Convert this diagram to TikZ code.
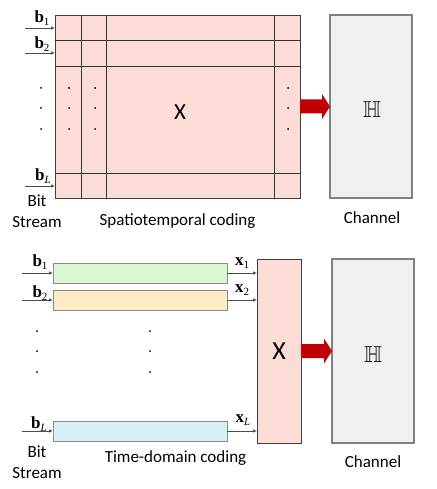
\RequirePackage{fix-cm}
\documentclass[tikz,border=0pt]{standalone}
\usepackage[no-math]{fontspec}
\setmainfont{Carlito}
\newfontfamily\tnr{Liberation Serif}
\usepackage{amssymb}
\usepackage{tikz}
\usetikzlibrary{arrows.meta, calc, positioning}

\definecolor{codepink}{HTML}{FCDCD6}
\definecolor{chgray}{HTML}{F0F0F0}
\definecolor{bargreen}{HTML}{D9F7D0}
\definecolor{baryellow}{HTML}{FDEBC5}
\definecolor{barblue}{HTML}{D7F0F7}
\definecolor{arrowred}{HTML}{C00000}

% bold vector symbol with a subscript
\newcommand{\vsym}[2]{{\tnr\textbf{#1}\raisebox{-0.35ex}{\fontsize{11}{12}\selectfont #2}}}
% fat red arrow from one node anchor to another
\newcommand{\fatarrow}[2]{%
  \fill[arrowred] ($(#1)+(0,-7)$) -- ($(#2)+(-8,-7)$) -- ($(#2)+(-8,-12.5)$) -- (#2)
    -- ($(#2)+(-8,12.5)$) -- ($(#2)+(-8,7)$) -- ($(#1)+(0,7)$) -- cycle;}

\begin{document}
\begin{tikzpicture}[x=1pt, y=-1pt, >={Latex[length=4pt,width=3.5pt]}, line/.style={draw=black!70, line width=0.7pt}, every node/.style={font=\fontsize{17}{21}\selectfont}]
    % Define styles for coder blocks, channel, bars, symbols and dots
    \tikzstyle{coder} = [draw=black!75, fill=codepink, rectangle, line width=0.8pt, inner sep=0pt, outer sep=0pt]
    \tikzstyle{channel} = [draw=black!50, fill=chgray, rectangle, line width=1.1pt, minimum width=82pt, minimum height=183pt, inner sep=0pt, outer sep=0pt]
    \tikzstyle{bar} = [draw=black!45, rectangle, line width=0.8pt, minimum width=174pt, minimum height=20pt, inner sep=0pt, outer sep=0pt]
    \tikzstyle{sym} = [font=\fontsize{17}{19}\selectfont, inner sep=0pt]
    \tikzstyle{bigsym} = [font=\fontsize{23}{26}\selectfont, inner sep=0pt]
    \useasboundingbox (0,0) rectangle (436,489);

    % Spatiotemporal coding (top)
    \node [coder, minimum width=245pt, minimum height=183pt] (stc) at (177.5,106.5) {};
    \node [channel, right of=stc, node distance=193.5pt] (ch1) {};
    \node [bigsym] (xtop) at (180,112) {X};
    \node [bigsym] (htop) at (372,110) {$\mathbb{H}$};
    \foreach \dx in {26,51,219}
        \draw[line, draw=black!80] ($(stc.north west)+(\dx,0)$) -- ($(stc.south west)+(\dx,0)$);
    \foreach \dy in {25,51,158}
        \draw[line, draw=black!80] ($(stc.north west)+(0,\dy)$) -- ($(stc.north east)+(0,\dy)$);

    \coordinate (tin1) at (25,28);
    \coordinate (tin2) at (25,53);
    \coordinate (tinL) at (25,186);
    \draw[line,->] (tin1) -- (tin1 -| stc.west);
    \draw[line,->] (tin2) -- (tin2 -| stc.west);
    \draw[line,->] (tinL) -- (tinL -| stc.west);
    \node [sym] (tb1) at (42,18) {\vsym{b}{1}};
    \node [sym] (tb2) at (42,44) {\vsym{b}{2}};
    \node [sym] (tbL) at (43,176) {\vsym{b}{\textit{L}}};

    \foreach \x in {41,69,95,288}
        \foreach \y in {88,108,129}
            \fill (\x,\y) circle[radius=1pt];

    \fatarrow{stc.east}{ch1.west}

    \node [align=center] (tbit) at (37,211.5) {Bit\\Stream};
    \node [anchor=base] (tcode) at (177.5,225) {Spatiotemporal coding};
    \node [anchor=base] (tchan) at (372,223) {Channel};

    % Time-domain coding (bottom)
    \node [bar, fill=bargreen] (bar1) at (140,273) {};
    \node [bar, fill=baryellow] (bar2) at (140,300) {};
    \node [bar, fill=barblue] (barL) at (140,431) {};
    \node [coder, minimum width=44pt, minimum height=184pt, font=\fontsize{26}{28}\selectfont] (xb) at (279,351) {X};
    \node [channel, right of=xb, node distance=94pt, minimum height=184pt] (ch2) {};
    \node [bigsym] (hbot) at (373,354.5) {$\mathbb{H}$};

    \coordinate (bin1) at (22,273);
    \coordinate (bin2) at (22,300);
    \coordinate (binL) at (22,431);
    \draw[line,->] (bin1) -- (bar1.west);
    \draw[line,->] (bin2) -- (bar2.west);
    \draw[line,->] (binL) -- (barL.west);
    \draw[line,->] (bar1.east) -- (bar1.east -| xb.west);
    \draw[line,->] (bar2.east) -- (bar2.east -| xb.west);
    \draw[line,->] (barL.east) -- (barL.east -| xb.west);
    \node [sym] (bb1) at (40,262) {\vsym{b}{1}};
    \node [sym] (bb2) at (40,293) {\vsym{b}{2}};
    \node [sym] (bbL) at (39,424) {\vsym{b}{\textit{L}}};
    \node [sym] (bx1) at (242,263) {\vsym{x}{1}};
    \node [sym] (bx2) at (242,290) {\vsym{x}{2}};
    \node [sym] (bxL) at (243,420) {\vsym{x}{\textit{L}}};

    \foreach \x in {37,150}
        \foreach \y in {331,351,372}
            \fill (\x,\y) circle[radius=1pt];

    \fatarrow{xb.east}{ch2.west}

    \node [align=center] (bbit) at (37,462.5) {Bit\\Stream};
    \node [anchor=base] (bcode) at (175.5,462) {Time-domain coding};
    \node [anchor=base] (bchan) at (373,467) {Channel};
\end{tikzpicture}
\end{document}
